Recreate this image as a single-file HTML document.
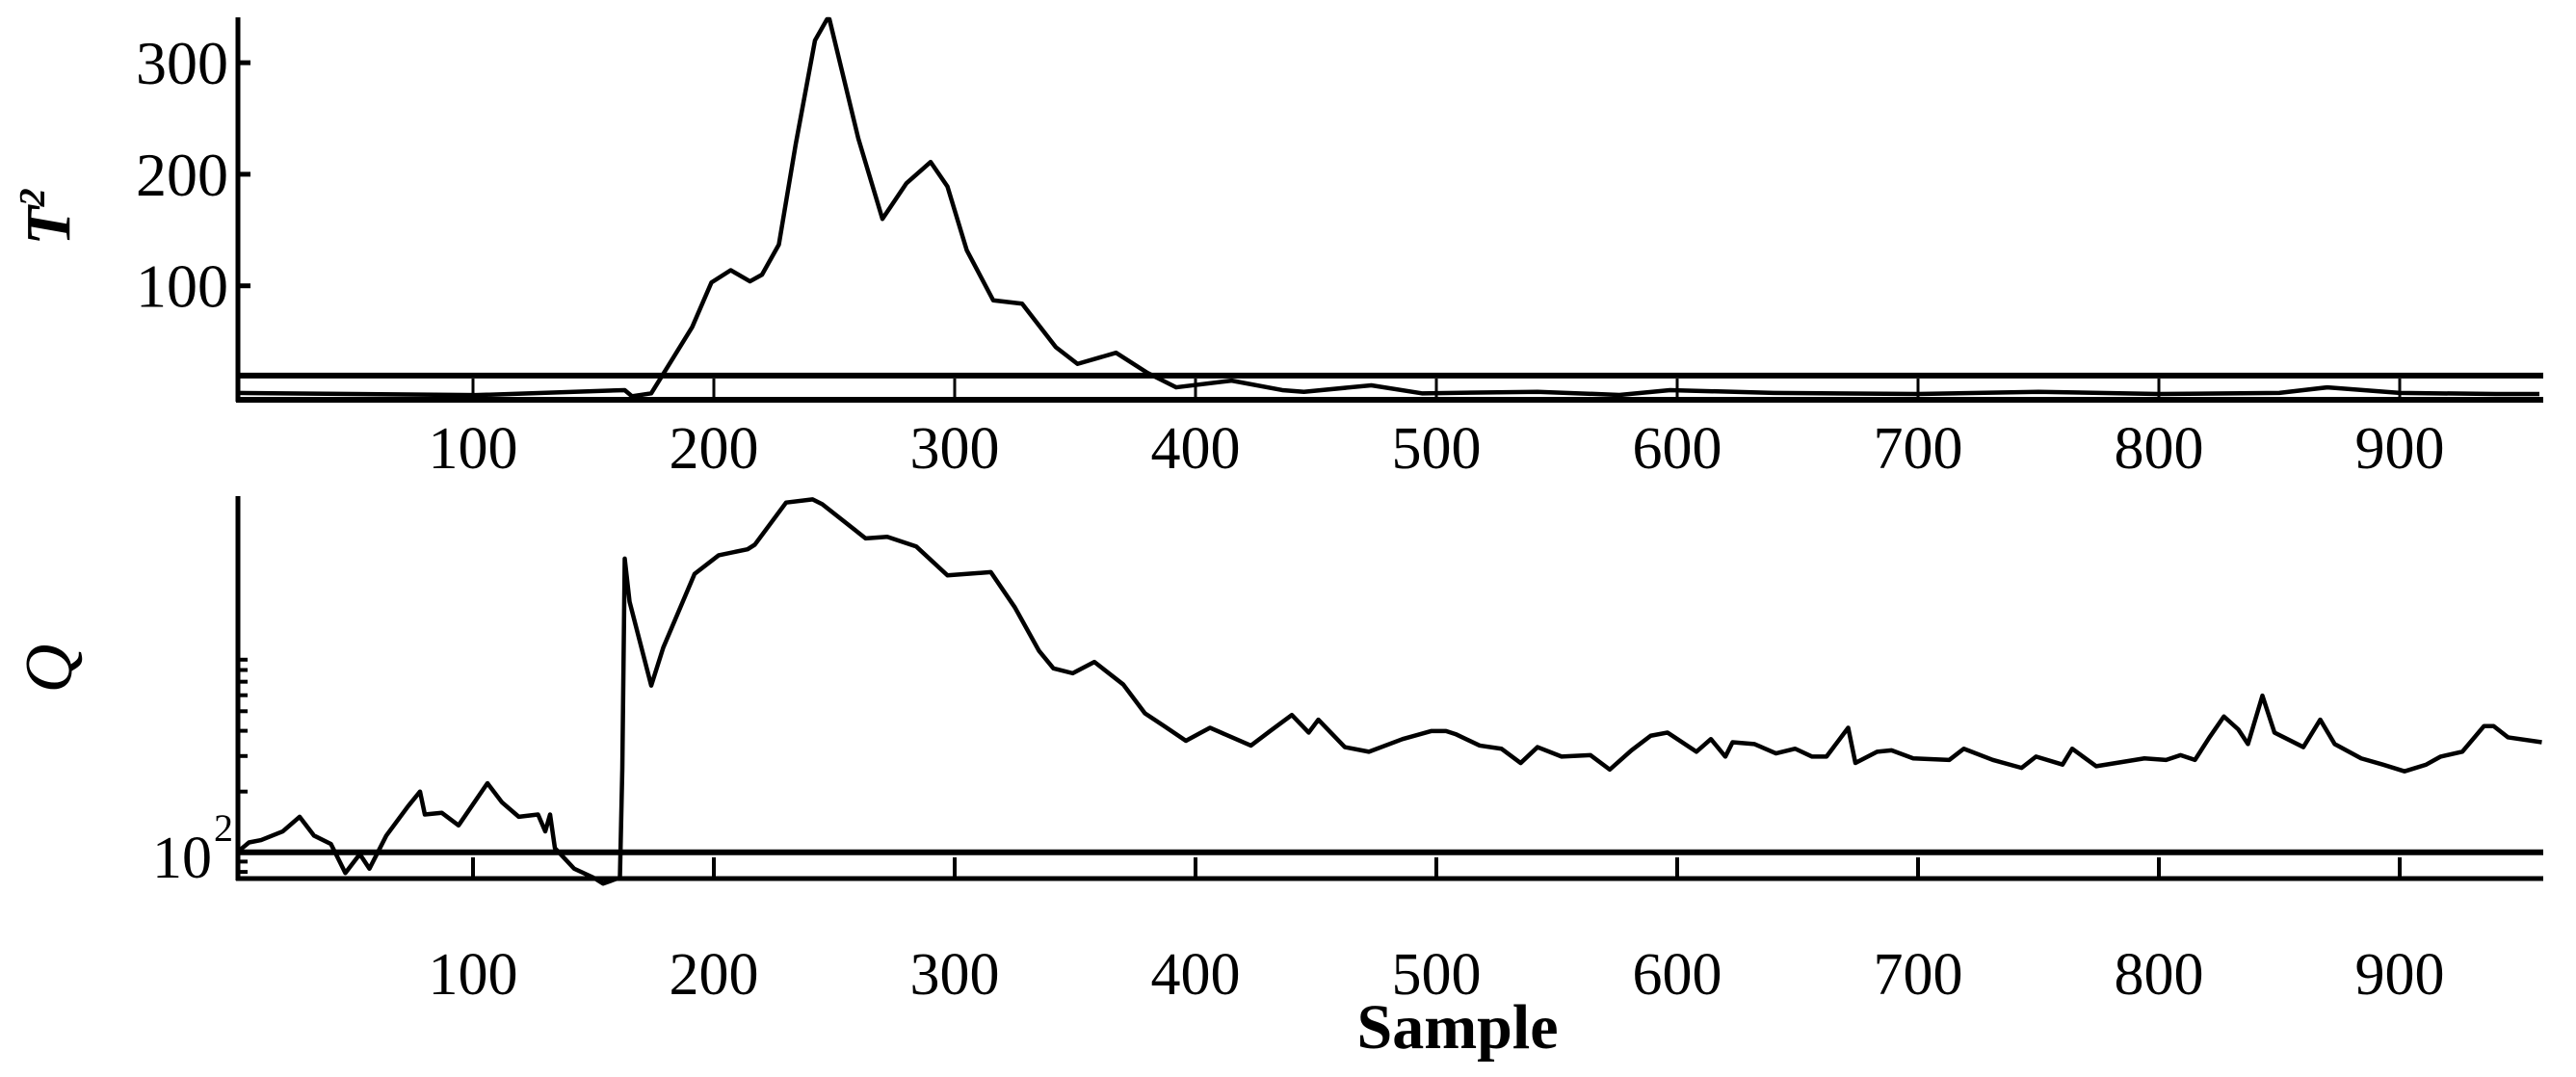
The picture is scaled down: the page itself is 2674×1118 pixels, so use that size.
<!DOCTYPE html>
<html><head><meta charset="utf-8"><style>
html,body{margin:0;padding:0;background:#fff;}
svg{display:block;}
text{font-family:"Liberation Serif",serif;fill:#000;}
</style></head><body>
<svg id="chart" width="2674" height="1118" viewBox="0 0 2674 1118" xmlns="http://www.w3.org/2000/svg">
<g id="top"></g>
<g id="bot"></g>
<text x="0" y="0" font-size="66" font-style="italic" font-weight="bold" text-anchor="middle" transform="translate(72,225) rotate(-90)">T<tspan font-size="38" dy="-26">2</tspan></text>
<text x="0" y="0" font-size="70" font-style="italic" text-anchor="middle" transform="translate(74,694) rotate(-90)">Q</text>
<text x="1513" y="1088" font-size="66" font-weight="bold" text-anchor="middle">Sample</text>
</svg>
<script>
const t2Samples=[2,101,163,166,174,181,191,199,207,215,220,227,234,242,247,248,260,270,280,290,297,305,316,328,342,351,367,380,392,415,436,445,473,494,542,576,597,640,700,750,800,850,870,900,940,958];
const t2Values=[4,2,6.5,1,3.6,28,63,103,114,104,110,137,227,320,339,339,232,160,192,211,189,132,87,84,45,30,40,22,9,15,6.5,5,10.8,3.6,5,2.2,6.5,4,3,5,3,4,9,4,3,3];
const qSamples=[2,7,12,21,28,34,41,47,53,57,64,73,78,80,87,94,106,112,119,127,130,132,134,142,150,154,161,162,163,165,174,179,192,202,214,217,230,241,245,263,272,284,297,315,325,335,341,349,358,370,379,387,396,406,423,431,440,447,451,462,472,486,498,504,508,518,527,535,542,552,564,572,581,589,596,608,614,620,623,632,641,649,656,662,671,674,683,689,698,713,719,731,743,749,760,764,774,794,803,809,815,821,827,833,837,843,848,860,867,873,884,893,902,911,917,926,935,939,945,959];
const qValues=[100,112,115,127,150,121,110,79,98,83,121,169,200,154,157,136,220,177,150,154,127,154,105,83,75,70,75,260,2850,1745,670,1033,2393,2960,3170,3340,5400,5600,5300,3590,3655,3275,2355,2443,1633,996,815,771,877,678,488,422,357,414,338,399,479,392,454,332,315,364,399,399,385,338,326,277,332,298,303,257,320,378,392,315,364,298,351,344,309,326,298,298,414,277,315,320,292,287,326,287,262,298,272,326,267,292,287,303,287,371,471,406,344,597,392,332,454,344,292,272,252,272,298,315,422,422,371,351];
const xTicks=[100,200,300,400,500,600,700,800,900];
const t2Ticks=[100,200,300];
const t2Limit=19.5;
const qLimit=100;
const qMinor=[80,90,200,300,400,500,600,700,800,900];

const NS="http://www.w3.org/2000/svg";
const xs=s=>241+2.5*s;
const yT=v=>412.5-1.158*v;
const yQ=q=>884.8-209.6*Math.log10(q/100);
const X0=247,X1=2640;
function mk(tag,attrs,parent){const e=document.createElementNS(NS,tag);for(const k in attrs)e.setAttribute(k,attrs[k]);parent.appendChild(e);return e;}
const gTop=document.getElementById('top'),gBot=document.getElementById('bot');

let e;
e=mk('line',{x1:X0,y1:18,x2:X0,y2:417,stroke:'#000','stroke-width':5},gTop);


e=mk('line',{x1:X0-2,y1:415,x2:X1,y2:415,stroke:'#000','stroke-width':6},gTop);


t2Ticks.forEach(v=>{
  let t=mk('line',{x1:X0,y1:yT(v),x2:X0+13,y2:yT(v),stroke:'#000','stroke-width':5},gTop);
  
  
  let l=mk('text',{x:X0-10,y:yT(v)+22,'font-size':64,'text-anchor':'end'},gTop);l.textContent=v;
  
  
});
xTicks.forEach(s=>{
  let t=mk('line',{x1:xs(s),y1:393,x2:xs(s),y2:415,stroke:'#000','stroke-width':3},gTop);
  
  
  let l=mk('text',{x:xs(s),y:486,'font-size':62,'text-anchor':'middle'},gTop);l.textContent=s;
  
  
});
e=mk('line',{x1:X0,y1:yT(t2Limit),x2:X1,y2:yT(t2Limit),stroke:'#000','stroke-width':6},gTop);


e=mk('polyline',{points:t2Samples.map((s,i)=>xs(s)+','+yT(t2Values[i])).join(' '),fill:'none',stroke:'#000','stroke-width':4.5,'stroke-linejoin':'round'},gTop);



e=mk('line',{x1:X0,y1:515,x2:X0,y2:914,stroke:'#000','stroke-width':5},gBot);


e=mk('line',{x1:X0-2,y1:912,x2:X1,y2:912,stroke:'#000','stroke-width':5},gBot);


qMinor.forEach(q=>{
  let t=mk('line',{x1:X0,y1:yQ(q),x2:X0+10,y2:yQ(q),stroke:'#000','stroke-width':4},gBot);
  
  
});
e=mk('text',{x:220,y:yQ(100)+26,'font-size':62,'text-anchor':'end'},gBot);
e.textContent='10';


e=mk('text',{x:222,y:yQ(100)-12,'font-size':40,'text-anchor':'start'},gBot);
e.textContent='2';


xTicks.forEach(s=>{
  let t=mk('line',{x1:xs(s),y1:890,x2:xs(s),y2:912,stroke:'#000','stroke-width':4},gBot);
  
  
  let l=mk('text',{x:xs(s),y:1032,'font-size':62,'text-anchor':'middle'},gBot);l.textContent=s;
  
  
});
e=mk('line',{x1:X0,y1:yQ(qLimit),x2:X1,y2:yQ(qLimit),stroke:'#000','stroke-width':6},gBot);


e=mk('polyline',{points:qSamples.map((s,i)=>xs(s)+','+yQ(qValues[i])).join(' '),fill:'none',stroke:'#000','stroke-width':4.5,'stroke-linejoin':'round'},gBot);


</script>
</body></html>
